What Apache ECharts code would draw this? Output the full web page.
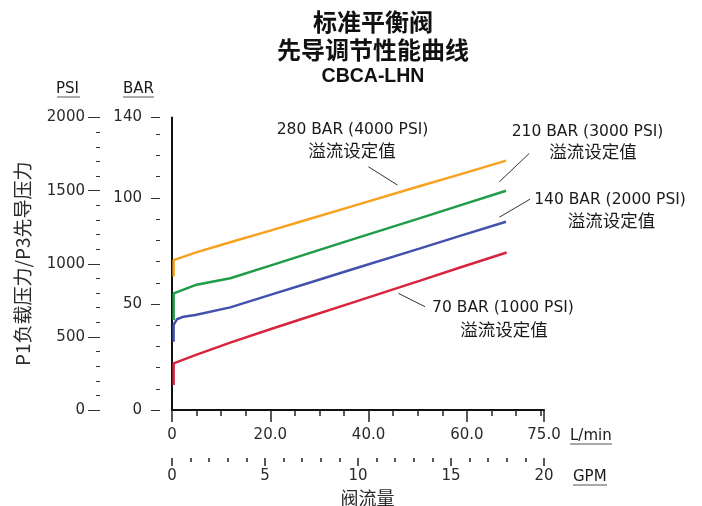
<!DOCTYPE html>
<html><head><meta charset="utf-8">
<script src="https://cdn.jsdelivr.net/npm/echarts@6/dist/echarts.min.js"></script>
<style>html,body{margin:0;padding:0;background:#fff}#c{width:702px;height:506px}</style>
</head><body><div id="c"></div>
<script>
// ---- text ----
const titleLines = ['标准平衡阀', '先导调节性能曲线', 'CBCA-LHN'];
const yAxisTitle = 'P1负载压力/P3先导压力';
const xAxisTitle = '阀流量';
const unitPSI = 'PSI', unitBAR = 'BAR', unitLPM = 'L/min', unitGPM = 'GPM';
const seriesNames = ['280 BAR (4000 PSI)', '210 BAR (3000 PSI)', '140 BAR (2000 PSI)', '70 BAR (1000 PSI)'];
const reliefLabel = '溢流设定值';

// ---- scales ----
const psiMax = 2000, psiStep = 500;
const barMax = psiMax / 14.5, barStep = 50, barMinorStep = 10, barTopLabel = '140';
const gpmMax = 20, gpmStep = 5;
const lpmMax = 75.7, lpmStep = 20, lpmMinorStep = 5, lpmTopLabel = '75.0';

// ---- series values: [flow L/min, pressure BAR] ----
const curve280 = [[0.33,62.9],[0.33,70.7],[4.74,74.2],[11.85,79.1],[19.99,84.6],[28.12,90.2],[36.25,95.8],[50.49,105.6],[58.62,111.1],[67.97,117.6]];
const curve210 = [[0.33,42.4],[0.33,55.0],[0.67,55.8],[4.74,58.9],[11.85,62.1],[19.99,68.1],[28.12,74.1],[36.25,80.1],[50.49,90.5],[58.62,96.5],[67.97,103.4]];
const curve140 = [[0.33,32.2],[0.33,40.1],[1.02,42.8],[2.36,44.0],[4.74,44.8],[11.85,48.4],[19.99,54.3],[28.12,60.1],[36.25,66.0],[50.49,76.2],[58.62,82.1],[67.97,88.8]];
const curve70  = [[0.33,11.8],[0.33,22.0],[0.67,22.8],[4.74,25.9],[11.85,31.8],[19.99,38.1],[28.12,44.2],[36.25,50.3],[50.49,61.0],[58.62,67.2],[68.11,74.3]];

// ---- leader lines (data coords) ----
const leader280 = [[39.97,114.7],[45.87,106.1]];
const leader210 = [[72.71,121.0],[66.61,107.6]];
const leader140 = [[72.85,99.4],[66.61,90.9]];
const leader70  = [[46.07,55.0],[51.50,48.7]];

const colors = ['#F6A21E', '#1E9C47', '#4252AC', '#D8243C'];
const curves = [curve280, curve210, curve140, curve70];
const leaders = [leader280, leader210, leader140, leader70];

const NUM = '"DejaVu Sans", sans-serif';
const CJK = '"Noto Sans CJK SC", sans-serif';
const tickC = '#333', xTickC = '#222', labC = '#2a2a2a';
function hiddenLine() { return {show: true, onZero: false, lineStyle: {color: 'rgba(0,0,0,0)', width: 1}}; }

const chart = echarts.init(document.getElementById('c'), null, {renderer: 'canvas'});

const series = curves.map((d, i) => ({
  type: 'line', name: seriesNames[i], data: d, xAxisIndex: 0, yAxisIndex: 0,
  showSymbol: false, symbol: 'none', smooth: false,
  lineStyle: {color: colors[i], width: 2.5}, itemStyle: {color: colors[i]},
  markLine: {
    silent: true, symbol: ['none', 'none'], animation: false,
    lineStyle: {color: '#333', width: 1, type: 'solid'},
    label: {show: false},
    data: [[{coord: leaders[i][0]}, {coord: leaders[i][1]}]]
  }
}));

function txt(x, y, s, font, align) {
  return {type: 'text', x: x, y: y, silent: true,
    style: {text: s, font: font, fill: '#1a1a1a', align: align || 'center', verticalAlign: 'middle'}};
}
function uline(x1, x2, y) {
  return {type: 'line', silent: true, shape: {x1: x1, y1: y, x2: x2, y2: y}, style: {stroke: '#555', lineWidth: 1}};
}
const annFont = '15.5px ' + NUM, annCJK = '17.5px ' + CJK, unitFont = '15px ' + NUM;

const option = {
  animation: false,
  backgroundColor: '#fff',
  title: {
    text: '{a|' + titleLines[0] + '}\n{a|' + titleLines[1] + '}\n{b|' + titleLines[2] + '}',
    left: 277, top: 8, padding: 0,
    textStyle: {
      rich: {
        a: {fontFamily: CJK, fontWeight: 'bold', fontSize: 24, lineHeight: 28, color: '#111', align: 'center'},
        b: {fontFamily: '"Liberation Sans", Arial, sans-serif', fontWeight: 'bold', fontSize: 19.5, lineHeight: 26, color: '#111', align: 'center'}
      }
    }
  },
  grid: [
    {left: 172, right: 158, top: 117.5, bottom: 96, containLabel: false, outerBoundsMode: 'none'},
    {left: 172, right: 158, top: 440, bottom: 48, containLabel: false, outerBoundsMode: 'none'}
  ],
  xAxis: [
    { type: 'value', gridIndex: 0, min: 0, max: lpmMax, interval: lpmStep, position: 'bottom',
      axisLine: {show: true, onZero: false, lineStyle: {color: '#111', width: 2}},
      axisTick: {show: true, inside: false, length: 12, lineStyle: {color: xTickC, width: 1.5}},
      minorTick: {show: false},
      axisLabel: {show: true, margin: 18, fontFamily: NUM, fontSize: 15, color: labC,
        formatter: v => v === 0 ? '0' : (v > lpmMax - 1 ? lpmTopLabel : v.toFixed(1))},
      splitLine: {show: false} },
    { type: 'value', gridIndex: 0, min: 0, max: lpmMax, interval: lpmMinorStep, position: 'bottom',
      name: xAxisTitle, nameLocation: 'middle', nameGap: 79,
      nameTextStyle: {fontFamily: CJK, fontSize: 18, color: labC, padding: [0, 0, 0, 19]},
      axisLine: {show: false, onZero: false},
      axisTick: {show: true, inside: false, length: 6, lineStyle: {color: xTickC, width: 1.5}},
      axisLabel: {show: false}, splitLine: {show: false} },
    { type: 'value', gridIndex: 1, min: 0, max: gpmMax, interval: gpmStep, position: 'bottom',
      axisLine: {show: true, onZero: false, lineStyle: {color: '#ffffff', width: 1}},
      axisTick: {show: true, inside: false, length: 8, lineStyle: {color: xTickC, width: 1.5}},
      minorTick: {show: true, splitNumber: 5, length: 4, lineStyle: {color: xTickC, width: 1.5}},
      axisLabel: {show: true, margin: 11, fontFamily: NUM, fontSize: 15, color: labC},
      splitLine: {show: false}, minorSplitLine: {show: false} }
  ],
  yAxis: [
    { type: 'value', gridIndex: 0, min: 0, max: barMax, position: 'left',
      name: yAxisTitle, nameLocation: 'middle', nameGap: 140,
      nameTextStyle: {fontFamily: CJK, fontSize: 19, color: labC},
      axisLine: {show: true, onZero: false, lineStyle: {color: '#111', width: 2}},
      axisTick: {show: false}, axisLabel: {show: false}, splitLine: {show: false} },
    { type: 'value', gridIndex: 0, min: 0, max: barMax, interval: barStep, position: 'left', offset: 12,
      axisLine: hiddenLine(), axisTick: {show: true, length: 9, lineStyle: {color: tickC, width: 1}},
      axisLabel: {show: true, margin: 18, fontFamily: NUM, fontSize: 15, color: labC,
        formatter: v => v > barMax - 5 ? barTopLabel : String(v)},
      splitLine: {show: false} },
    { type: 'value', gridIndex: 0, min: 0, max: barMax, interval: barMinorStep, position: 'left', offset: 12,
      axisLine: hiddenLine(), axisTick: {show: true, length: 4, lineStyle: {color: tickC, width: 1}},
      axisLabel: {show: false}, splitLine: {show: false} },
    { type: 'value', gridIndex: 0, min: 0, max: psiMax, interval: psiStep, position: 'left', offset: 72,
      axisLine: hiddenLine(), axisTick: {show: true, length: 12, lineStyle: {color: tickC, width: 1}},
      minorTick: {show: true, splitNumber: 5, length: 4, lineStyle: {color: tickC, width: 1}},
      axisLabel: {show: true, margin: 15, fontFamily: NUM, fontSize: 15, color: labC, formatter: v => String(v)},
      splitLine: {show: false}, minorSplitLine: {show: false} },
    { type: 'value', gridIndex: 1, min: 0, max: 1,
      axisLine: {show: false, onZero: false}, axisTick: {show: false}, axisLabel: {show: false}, splitLine: {show: false} }
  ],
  series: series,
  graphic: [
    txt(352.5, 130, seriesNames[0], annFont), txt(352, 150, reliefLabel, annCJK),
    txt(587.5, 131.7, seriesNames[1], annFont), txt(593, 151.7, reliefLabel, annCJK),
    txt(610, 200, seriesNames[2], annFont), txt(611.5, 220, reliefLabel, annCJK),
    txt(503, 308, seriesNames[3], annFont), txt(504, 329, reliefLabel, annCJK),
    txt(67.5, 89, unitPSI, unitFont), txt(138.5, 89, unitBAR, unitFont),
    txt(570, 436, unitLPM, unitFont, 'left'), txt(573, 477, unitGPM, unitFont, 'left'),
    uline(57, 80, 97), uline(123, 154, 97), uline(570, 612, 444), uline(573, 607, 485)
  ]
};
chart.setOption(option);
</script>
</body></html>
